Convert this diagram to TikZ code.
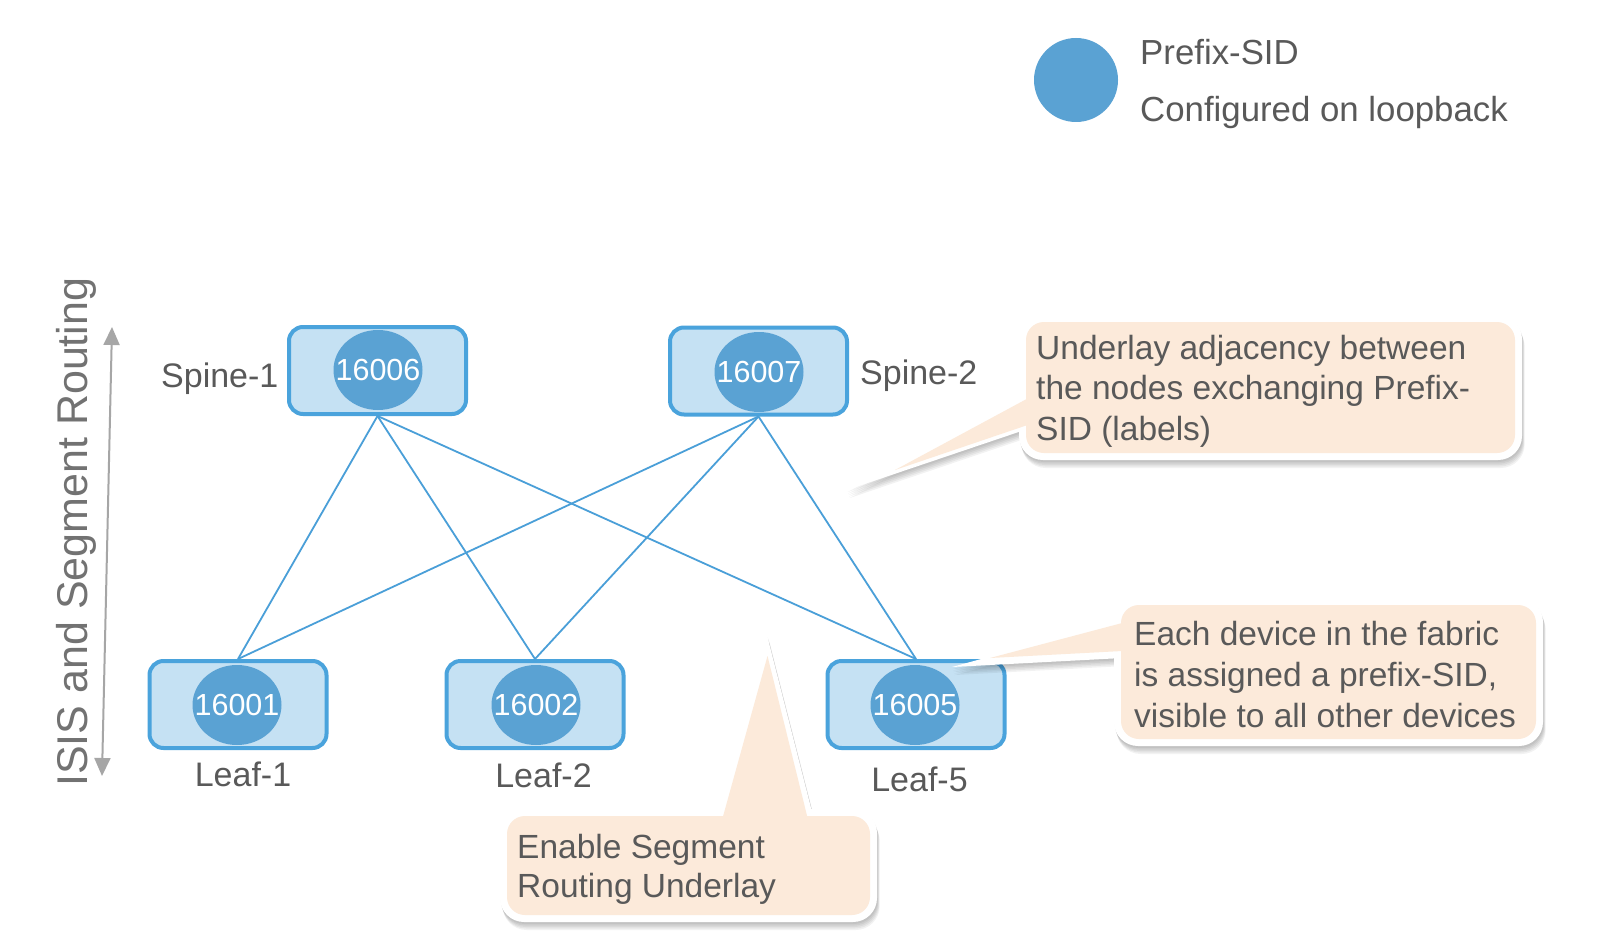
\documentclass[tikz,border=0pt]{standalone}
\usepackage{fontspec}
\setmainfont{Liberation Sans}
\usetikzlibrary{arrows.meta,shapes.geometric}
\definecolor{linkblue}{HTML}{4A9FD8}
\definecolor{boxfill}{HTML}{C5E1F3}
\definecolor{boxline}{HTML}{4AA3DC}
\definecolor{sidfill}{HTML}{5AA2D3}
\definecolor{peach}{HTML}{FCEADA}
\definecolor{txtgray}{HTML}{595959}
\definecolor{arrgray}{HTML}{A6A6A6}
\begin{document}
\begin{tikzpicture}[x=1pt,y=-1pt,
  devbox/.style={draw=boxline, line width=4pt, fill=boxfill, rounded corners=14pt,
    minimum width=177pt, minimum height=87pt, inner sep=0pt},
  sid/.style={ellipse, fill=sidfill, minimum width=89pt, minimum height=80pt, inner sep=0pt,
    text=white, font=\fontsize{30.5}{30}\selectfont},
  link/.style={draw=linkblue, line width=1.8pt},
  lbl/.style={inner sep=0pt, text=txtgray, font=\fontsize{34}{40}\selectfont},
  ctext/.style={inner sep=0pt, anchor=base west, text=txtgray, font=\fontsize{33.5}{40}\selectfont},
  shadowfill/.style={fill=black, opacity=0.05}
]
\useasboundingbox (0,0) rectangle (1602,944);
\fill[white] (0,0) rectangle (1602,944);

% legend
\node[circle, fill=sidfill, minimum size=84pt, inner sep=0pt] (legend) at (1076,80) {};
\node[lbl, anchor=base west, font=\fontsize{34.8}{40}\selectfont] (legend1) at (1140,65) {Prefix-SID};
\node[lbl, anchor=base west, font=\fontsize{34.8}{40}\selectfont] (legend2) at (1140,122) {Configured on loopback};

% vertical arrow and text
\coordinate (arrtop) at (112,327);
\coordinate (arrbot) at (102,776);
\draw[arrgray, line width=2pt, {Triangle[width=16pt,length=18pt]}-{Triangle[width=16pt,length=18pt]}] (arrbot) -- (arrtop);
\node[rotate=90, anchor=base west, inner sep=0pt, text=txtgray!85, font=\fontsize{43}{43}\selectfont] (isis) at (87,787) {ISIS and Segment Routing};

% devices
\node[devbox] (s1) at (377.5,370.5) {};
\node[devbox] (s2) at (758.5,371) {};
\node[devbox] (l1) at (238,704.5) {};
\node[devbox] (l2) at (535,704.5) {};
\node[devbox] (l5) at (916,704.5) {};

% links
\foreach \a in {s1,s2}{
  \foreach \b in {l1,l2,l5}{
    \draw[link] (\a.south) -- (\b.north);
  }
}

\node[sid] (s1c) at (378,370) {\makebox[0pt]{16006}};
\node[sid] (s2c) at (759,372) {\makebox[0pt]{16007}};
\node[sid] (l1c) at (237,705) {\makebox[0pt]{16001}};
\node[sid] (l2c) at (536,705) {\makebox[0pt]{16002}};
\node[sid] (l5c) at (915,705) {\makebox[0pt]{16005}};

\node[lbl, anchor=base west] (s1l) at (161,387) {Spine-1};
\node[lbl, anchor=base west] (s2l) at (860,384) {Spine-2};
\node[lbl, anchor=base] (l1l) at (243,786) {Leaf-1};
\node[lbl, anchor=base] (l2l) at (543.5,787) {Leaf-2};
\node[lbl, anchor=base] (l5l) at (919.5,791) {Leaf-5};

% callout 1
\foreach \d in {2,3.5,5,6.5,8}{
  \fill[shadowfill, shift={(\d/3,\d)}] [rounded corners=24pt] (1019,315) -- (1522,315) -- (1522,460) -- (1019,460) -- cycle
    [sharp corners] (847,490) -- (1060,375) -- (1060,418) -- cycle;
}
\fill[white] [rounded corners=24pt] (1019,315) -- (1522,315) -- (1522,460) -- (1019,460) -- cycle
    [sharp corners] (847,490) -- (1060,375) -- (1060,418) -- cycle;
\fill[peach] [rounded corners=18pt] (1026,322) -- (1515,322) -- (1515,453) -- (1026,453) -- cycle
    [sharp corners] (895,470) -- (1060,381) -- (1060,414) -- cycle;
\node[ctext] (c1a) at (1036,359) {Underlay adjacency between};
\node[ctext] (c1b) at (1036,399) {the nodes exchanging Prefix-};
\node[ctext] (c1c) at (1036,440) {SID (labels)};

% callout 2
\foreach \d in {2,3.5,5,6.5,8}{
  \fill[shadowfill, shift={(\d/3,\d)}] [rounded corners=24pt] (1114,598) -- (1543,598) -- (1543,746) -- (1114,746) -- cycle
    [sharp corners] (952,667) -- (1160,610) -- (1160,656) -- cycle;
}
\fill[white] [rounded corners=24pt] (1114,598) -- (1543,598) -- (1543,746) -- (1114,746) -- cycle
    [sharp corners] (952,667) -- (1160,610) -- (1160,656) -- cycle;
\fill[peach] [rounded corners=18pt] (1121,605) -- (1536,605) -- (1536,739) -- (1121,739) -- cycle
    [sharp corners] (990,658) -- (1160,613) -- (1160,649) -- cycle;
\node[ctext] (c2a) at (1134,645) {Each device in the fabric};
\node[ctext] (c2b) at (1134,686) {is assigned a prefix-SID,};
\node[ctext] (c2c) at (1134,727) {visible to all other devices};

% callout 3
\foreach \d in {2,3.5,5,6.5,8}{
  \fill[shadowfill, shift={(\d/3,\d)}] [rounded corners=24pt] (500,809) -- (877,809) -- (877,922) -- (500,922) -- cycle
    [sharp corners] (767,635) -- (821.7,850) -- (707.5,850) -- cycle;
}
\fill[white] [rounded corners=24pt] (500,809) -- (877,809) -- (877,922) -- (500,922) -- cycle
    [sharp corners] (767,635) -- (821.7,850) -- (707.5,850) -- cycle;
\fill[peach] [rounded corners=18pt] (507,816) -- (870,816) -- (870,915) -- (507,915) -- cycle
    [sharp corners] (767.5,656) -- (815.5,850) -- (713.7,850) -- cycle;
\node[ctext] (c3a) at (517,858) {Enable Segment};
\node[ctext] (c3b) at (517,897) {Routing Underlay};
\end{tikzpicture}
\end{document}
